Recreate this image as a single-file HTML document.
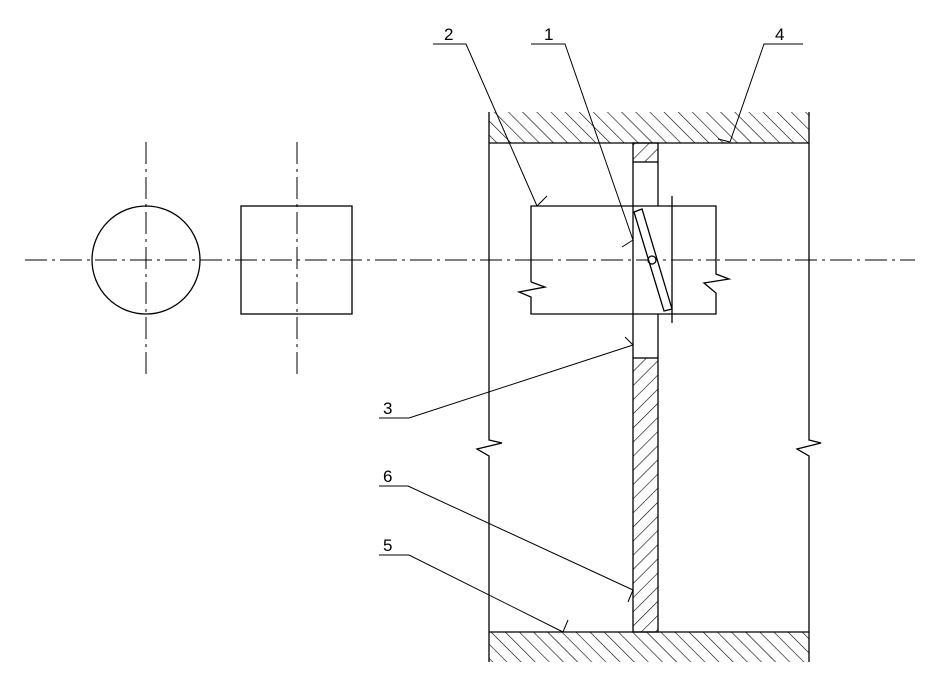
<!DOCTYPE html>
<html><head><style>body{margin:0;background:#fff}svg{display:block}</style></head><body>
<svg width="934" height="697" viewBox="0 0 934 697" xmlns="http://www.w3.org/2000/svg">
<defs>
<pattern id="hb" patternUnits="userSpaceOnUse" width="10" height="10" patternTransform="rotate(-45)"><line x1="0" y1="0" x2="0" y2="10" stroke="#000" stroke-width="1.2"/></pattern>
<pattern id="hf" patternUnits="userSpaceOnUse" width="10" height="10" patternTransform="rotate(45)"><line x1="0" y1="0" x2="0" y2="10" stroke="#000" stroke-width="1.2"/></pattern>
</defs>
<g fill="none" stroke="#000" stroke-width="1.3">
<line x1="25" y1="260" x2="915" y2="260" stroke-dasharray="22,5,3,5" stroke-width="1"/>
<line x1="146" y1="142" x2="146" y2="378" stroke-dasharray="22,5,3,5" stroke-width="1"/>
<line x1="297" y1="142" x2="297" y2="378" stroke-dasharray="22,5,3,5" stroke-width="1"/>
<circle cx="146" cy="260" r="54"/>
<rect x="241" y="206" width="111" height="108"/>
<rect x="489" y="112" width="320" height="31" fill="url(#hb)" stroke="none"/>
<line x1="489" y1="143" x2="809" y2="143"/>
<rect x="489" y="632" width="320" height="30" fill="url(#hb)" stroke="none"/>
<line x1="489" y1="632" x2="809" y2="632"/>
<polyline points="489,112 489,440 502,443 477,449 489,456 489,662"/>
<polyline points="809,112 809,440 821,443 797,449 809,456 809,662"/>
<rect x="633" y="143" width="25" height="19" fill="url(#hf)"/>
<rect x="633" y="358" width="25" height="274" fill="url(#hf)"/>
<line x1="633" y1="162" x2="633" y2="358"/>
<line x1="658" y1="162" x2="658" y2="206"/>
<line x1="658" y1="314" x2="658" y2="358"/>
<polyline points="531,282 531,206 716,206 716,274 729,279 704,283 716,293 716,314 531,314 531,297 519,292 545,287 531,282" fill="#fff"/>
<line x1="633" y1="206" x2="633" y2="314"/>
<line x1="531" y1="260" x2="716" y2="260" stroke-dasharray="22,5,3,5" stroke-width="1"/>
<line x1="672" y1="196" x2="672" y2="323"/>
<polygon points="634,212 642,209 672,309 664,311" fill="#fff"/>
<circle cx="652" cy="260" r="4"/>
<g stroke-width="1">
<polyline points="433,44 466,44 537,206"/><line x1="537" y1="206" x2="547" y2="196"/>
<polyline points="531,44 565,44 633,240"/><line x1="633" y1="240" x2="622" y2="247"/>
<polyline points="803,44 764,44 730,142"/><line x1="730" y1="142" x2="718" y2="139"/>
<polyline points="379,418 409,418 633,345"/><line x1="633" y1="345" x2="625" y2="337"/>
<polyline points="379,486 408,486 633,590"/><line x1="633" y1="590" x2="628" y2="602"/>
<polyline points="379,555 409,555 563,632"/><line x1="563" y1="632" x2="568" y2="620"/>
</g>
</g>
<g font-family="Liberation Sans, sans-serif" font-size="17" fill="#000">
<text x="444" y="40">2</text>
<text x="544" y="40">1</text>
<text x="775" y="40">4</text>
<text x="383" y="414">3</text>
<text x="383" y="482">6</text>
<text x="383" y="551">5</text>
</g>
</svg>
</body></html>
